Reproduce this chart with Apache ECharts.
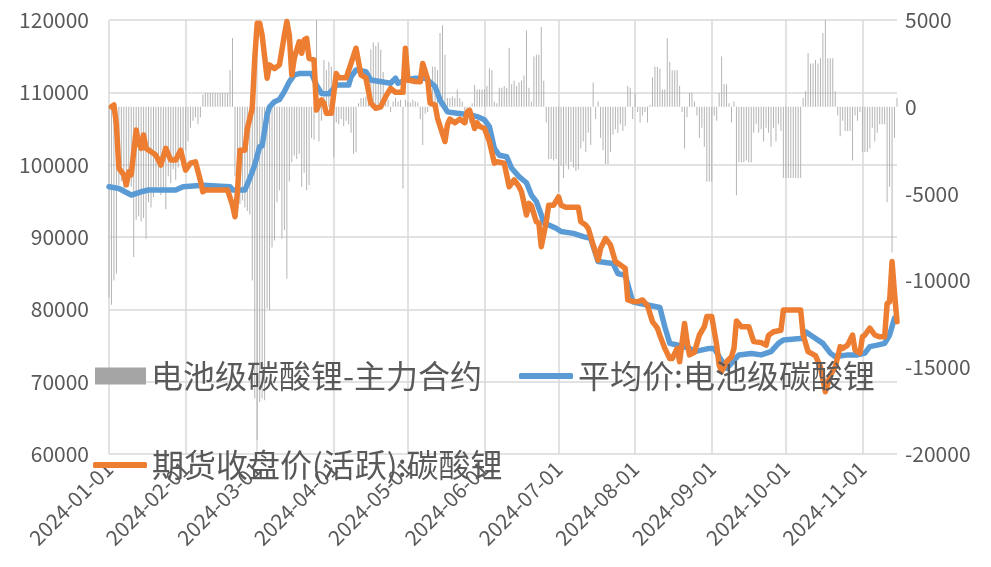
<!DOCTYPE html>
<html>
<head>
<meta charset="utf-8">
<script src="https://cdn.jsdelivr.net/npm/echarts@6/dist/echarts.min.js"></script>
<style>
html,body{margin:0;padding:0;background:#fff;}
#chart{width:991px;height:567px;}
</style>
</head>
<body>
<div id="chart"></div>
<script>
// ---------- data ----------
const startDate = '2024-01-01';
const dayCount = 320; // 2024-01-01 .. 2024-11-15

// 电池级碳酸锂-主力合约 (daily, right axis)
const barJan = [-11000,-11400,-10000,-9600,-4500,-4300,-4800,-4200,-3800,-4600,-8650,-6500,-6300,-6600,-6400,-7600,-5500,-5800,-5200,-4800,-4600,-5100,-4700,-5900,-4000,-4400,-3600,-4200,-3500,-3000,-2600];
const barFeb = [-2500,-2000,-1200,-800,-600,-1000,-600,700,800,800,800,800,800,800,800,800,800,800,2100,3960,-4000,-5500,-5600,-5400,-5800,-6000,-6200,-10000,-16800];
const barMar = [-19200,-17000,-16800,-16900,-11600,-11700,-8100,-7700,-5500,-4800,-7600,-7100,-9900,-4300,-3200,-2800,-3000,-2700,-4600,-3800,-4800,-4500,-1800,-1900,5000,-2000,-800,2700,2100,2600,2300];
const barApr = [-2900,-900,-1000,-700,-1100,-800,-1000,-1500,-2700,-2600,200,500,500,600,500,3300,3700,3500,3700,3300,2000,300,400,-300,300,500,300,400,-4700,400];
const barMay = [300,250,400,300,250,-700,-2200,-400,-300,400,2300,2300,2100,4250,4700,3000,500,500,600,500,1000,500,300,-200,-1000,-900,200,1250,1000,1000,1000];
const barJun = [1000,1200,2200,2100,300,200,1100,1100,1200,1100,3400,1300,1500,1200,1400,1500,1800,4400,1100,300,2900,3000,3000,4600,1500,-900,-3000,-3000,-3100,-3000];
const barJul = [-4900,-3400,-4100,-3300,-3600,-3200,-3500,-3700,-3600,-2400,-2000,-2600,-1500,-2200,1400,-700,300,-1800,-2500,-3300,-3300,-2600,-1600,-1300,-1500,-1000,-1400,-1100,1200,1100,-700];
const barAug = [800,-300,-900,-500,-300,-900,100,1700,2300,2300,2200,1000,1000,3950,2600,2100,2100,2100,1200,-300,-2400,-600,800,800,300,-500,-1800,-1200,-2300,-4300,-4300];
const barSep = [-4300,-500,-800,800,2900,1300,1300,200,-900,300,-5100,-3200,-3200,-3200,-3100,-3200,-3200,-1500,-1000,-1500,-1300,-2000,-1200,-1500,-2300,-1200,-2000,-1000,-1400,-4100];
const barOct = [-4100,-4100,-4100,-4100,-4100,-4100,-4100,500,900,3100,2500,2500,2700,2500,2800,4250,5000,2800,2800,2800,900,-500,-1700,-800,-1400,-1400,-1400,-3100,-500,-800,-300];
const barNov = [-2600,-2600,-2600,-2400,-1200,-2000,-1500,-1000,-1000,-1000,-5500,-4600,-8400,-1800,500];

// 平均价:电池级碳酸锂 (left axis)
const avgPrice = [
 ['01-01',96950],['01-05',96700],['01-10',95800],['01-14',96250],['01-17',96500],['01-28',96500],['01-31',96950],
 ['02-08',97150],['02-19',96950],['02-20',96500],['02-25',96500],['02-27',98100],['02-29',99950],
 ['03-02',102500],['03-03',102600],['03-05',106900],['03-06',108000],['03-08',108700],['03-10',109000],['03-12',110100],
 ['03-14',111450],['03-16',112400],['03-18',112600],['03-23',112600],['03-25',111000],['03-27',109850],['03-30',109800],
 ['04-01',110550],['04-02',111000],['04-07',111000],['04-08',112150],['04-10',113100],['04-14',112850],['04-16',111700],
 ['04-24',111250],['04-26',111950],['04-27',111250],['04-30',111700],
 ['05-04',111950],['05-08',111950],['05-09',111700],['05-12',110800],['05-14',108950],['05-17',107300],['05-21',107100],
 ['05-26',106900],['05-29',106650],
 ['06-01',106200],['06-03',105250],['06-05',102250],['06-07',101300],['06-10',101100],['06-12',99500],['06-15',98350],
 ['06-18',97500],['06-20',95800],['06-22',94900],['06-24',93050],['06-25',91900],['06-27',91650],['06-30',91200],
 ['07-02',90750],['07-07',90500],['07-11',90050],['07-14',89800],['07-17',86600],['07-23',86350],['07-25',84950],
 ['07-28',84700],['07-31',81050],
 ['08-03',80800],['08-11',80250],['08-13',77600],['08-15',75300],['08-19',75000],['08-23',74600],['08-25',74150],['08-31',74600],
 ['09-02',74600],['09-04',73450],['09-07',71850],['09-09',72550],['09-12',73700],['09-17',73900],['09-21',73700],
 ['09-25',74150],['09-28',75300],['09-30',75750],
 ['10-08',76000],['10-09',76900],['10-12',76200],['10-16',75300],['10-19',73950],['10-21',73450],['10-26',73700],['10-30',73700],
 ['11-02',73950],['11-04',74850],['11-07',75050],['11-10',75300],['11-12',76450],['11-14',78800]
];

// 期货收盘价(活跃):碳酸锂 (left axis)
const futPrice = [
 ['01-02',108000],['01-03',108250],['01-04',105500],['01-05',99500],['01-07',98600],['01-08',97200],['01-09',99000],
 ['01-10',98600],['01-12',104800],['01-13',102950],['01-14',102250],['01-15',104100],['01-16',102250],['01-18',101800],
 ['01-20',101300],['01-22',99950],['01-24',102250],['01-26',100650],['01-28',100650],['01-30',102000],
 ['02-01',99250],['02-03',100200],['02-05',100400],['02-07',97800],['02-08',96250],['02-09',96500],['02-18',96500],
 ['02-20',94400],['02-21',92800],['02-22',96250],['02-23',102000],['02-25',102000],['02-26',105000],['02-28',107800],['02-29',114700],
 ['03-01',119550],['03-02',119550],['03-03',117900],['03-05',111950],['03-06',113800],['03-08',113300],['03-10',113800],
 ['03-12',117900],['03-13',119800],['03-14',117900],['03-15',112400],['03-16',114700],['03-18',117000],['03-19',115400],
 ['03-20',117250],['03-21',117450],['03-22',114700],['03-24',114500],['03-25',107550],['03-27',108950],['03-28',108500],
 ['03-29',107100],['03-31',107100],
 ['04-02',112600],['04-03',112000],['04-06',112000],['04-08',114000],['04-10',116100],['04-12',112400],['04-14',112000],
 ['04-16',108500],['04-18',107800],['04-20',108000],['04-22',109400],['04-24',110550],['04-26',110000],['04-29',110000],['04-30',116100],
 ['05-01',111700],['05-04',111500],['05-06',111450],['05-07',114000],['05-09',111800],['05-10',108500],['05-12',108250],
 ['05-13',106400],['05-16',103200],['05-17',105500],['05-18',106300],['05-20',105800],['05-22',106300],['05-24',105800],
 ['05-25',107300],['05-26',107500],['05-28',105000],['05-29',105800],['05-30',105300],
 ['06-01',105000],['06-03',103200],['06-05',100200],['06-06',100400],['06-09',100200],['06-11',96950],['06-13',97900],
 ['06-15',96950],['06-16',96250],['06-18',93050],['06-19',94650],['06-20',94300],['06-22',92100],['06-23',91950],
 ['06-24',88650],['06-26',92100],['06-27',94400],['06-29',94400],
 ['07-01',95550],['07-02',94400],['07-04',94100],['07-09',94100],['07-10',92100],['07-12',91650],['07-13',91200],
 ['07-15',88900],['07-17',86800],['07-18',88450],['07-20',89800],['07-22',88900],['07-24',86600],['07-26',86150],
 ['07-28',85650],['07-29',81300],['07-31',81100],
 ['08-02',81050],['08-04',81300],['08-06',80500],['08-08',78300],['08-10',77400],['08-11',76400],['08-13',74600],
 ['08-15',73200],['08-16',73200],['08-18',74600],['08-19',72750],['08-21',78050],['08-22',75550],['08-23',73700],
 ['08-25',74050],['08-27',76450],['08-29',77600],['08-30',79000],
 ['09-01',79000],['09-03',75050],['09-04',72300],['09-05',71400],['09-07',72750],['09-09',73450],['09-10',74600],
 ['09-11',78400],['09-13',77600],['09-16',77600],['09-18',75550],['09-21',75400],['09-23',75050],['09-24',76400],
 ['09-26',76900],['09-29',77100],['09-30',79900],
 ['10-07',79900],['10-08',76450],['10-10',74150],['10-13',73600],['10-15',72050],['10-17',68600],['10-19',70900],
 ['10-21',72050],['10-23',74850],['10-24',74600],['10-26',75050],['10-28',76450],['10-29',74400],['10-31',73950],
 ['11-01',76200],['11-02',76450],['11-04',77400],['11-06',76450],['11-08',76200],['11-10',76200],['11-11',80800],
 ['11-12',81050],['11-13',86600],['11-14',82200],['11-15',78300]
];

const leftTicks = {min: 60000, max: 120000, interval: 10000};
const rightTicks = {min: -20000, max: 5000, interval: 5000};
const names = ['电池级碳酸锂-主力合约', '平均价:电池级碳酸锂', '期货收盘价(活跃):碳酸锂'];

// ---------- build ----------
const dates = [];
for (let i = 0; i < dayCount; i++) {
  const d = new Date(Date.parse(startDate + 'T00:00:00Z') + i * 86400000);
  dates.push(d.toISOString().slice(0, 10));
}
const barValues = [].concat(barJan, barFeb, barMar, barApr, barMay, barJun, barJul, barAug, barSep, barOct, barNov);
const toPairs = arr => arr.map(([md, v]) => [dates.indexOf('2024-' + md), v]);
const isMonthStart = (idx) => dates[idx].slice(8) === '01';
const plain = v => String(v);

const FONT = '"Noto Sans CJK SC", "Noto Sans", sans-serif';
const TXT = '#595959';

const chart = echarts.init(document.getElementById('chart'), null, {renderer: 'canvas'});
chart.setOption({
  animation: false,
  backgroundColor: '#ffffff',
  textStyle: {fontFamily: FONT},
  grid: {left: 109, right: 94, top: 20, bottom: 113, containLabel: false, outerBoundsMode: 'none'},
  legend: [
    {data: [{name: names[0], icon: 'rect', itemStyle: {color: '#a5a5a5'}}], left: 95, top: 360, padding: 0,
     itemWidth: 51, itemHeight: 17, selectedMode: false,
     textStyle: {color: TXT, fontSize: 32, fontFamily: FONT}},
    {data: [{name: names[1], icon: 'roundRect'}], left: 519, top: 360, padding: 0,
     itemWidth: 54, itemHeight: 6, selectedMode: false,
     textStyle: {color: TXT, fontSize: 32, fontFamily: FONT}},
    {data: [{name: names[2], icon: 'roundRect'}], left: 93, top: 449, padding: 0,
     itemWidth: 54, itemHeight: 6, selectedMode: false,
     textStyle: {color: TXT, fontSize: 32, fontFamily: FONT}}
  ],
  xAxis: {
    type: 'category',
    data: dates,
    boundaryGap: false,
    axisLine: {show: false},
    axisTick: {show: false},
    axisLabel: {
      interval: (idx) => isMonthStart(idx),
      rotate: 45,
      margin: 11,
      color: TXT,
      fontSize: 21,
      fontFamily: FONT
    },
    splitLine: {show: true, interval: (idx) => isMonthStart(idx), lineStyle: {color: '#d9d9d9', width: 1.5}}
  },
  yAxis: [
    {
      type: 'value', position: 'left',
      min: leftTicks.min, max: leftTicks.max, interval: leftTicks.interval,
      axisLine: {show: false}, axisTick: {show: false},
      axisLabel: {color: TXT, fontSize: 21, margin: 20, fontFamily: FONT, formatter: plain},
      splitLine: {show: true, lineStyle: {color: '#d9d9d9', width: 1.5}}
    },
    {
      type: 'value', position: 'right',
      min: rightTicks.min, max: rightTicks.max, interval: rightTicks.interval,
      axisLine: {show: false}, axisTick: {show: false},
      axisLabel: {color: TXT, fontSize: 21, margin: 8, fontFamily: FONT, formatter: plain},
      splitLine: {show: false}
    }
  ],
  series: [
    {
      name: names[0], type: 'bar', yAxisIndex: 1,
      data: barValues, barWidth: 1,
      itemStyle: {color: '#b4b4b4'}
    },
    {
      name: names[1], type: 'line', yAxisIndex: 0,
      data: toPairs(avgPrice), showSymbol: false, symbol: 'none',
      lineStyle: {color: '#5b9bd5', width: 5.5, join: 'round', cap: 'round'},
      itemStyle: {color: '#5b9bd5'}
    },
    {
      name: names[2], type: 'line', yAxisIndex: 0,
      data: toPairs(futPrice), showSymbol: false, symbol: 'none',
      lineStyle: {color: '#ed7d31', width: 5.5, join: 'round', cap: 'round'},
      itemStyle: {color: '#ed7d31'}
    }
  ]
});
</script>
</body>
</html>
